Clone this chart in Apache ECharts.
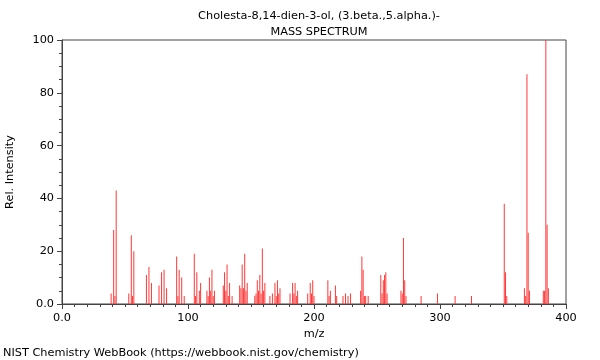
<!DOCTYPE html>
<html>
<head>
<meta charset="utf-8">
<script src="https://cdn.jsdelivr.net/npm/echarts@6/dist/echarts.min.js"></script>
<style>html,body{margin:0;padding:0;background:#fff}#c{width:600px;height:360px}</style>
</head>
<body>
<div id="c"></div>
<script>
const titleLine1 = "Cholesta-8,14-dien-3-ol, (3.beta.,5.alpha.)-";
const titleLine2 = "MASS SPECTRUM";
const footer = "NIST Chemistry WebBook (https://webbook.nist.gov/chemistry)";
const xName = "m/z";
const yName = "Rel. Intensity";
const mz = [39,41,42,43,53,55,56,57,67,69,71,77,79,81,83,91,92,93,95,97,105,106,107,109,110,115,116,117,118,119,120,121,128,129,130,131,132,133,135,141,142,143,144,145,146,147,153,154,155,156,157,158,159,160,161,165,167,169,170,171,172,173,181,183,184,185,186,187,195,197,198,199,200,211,212,213,217,218,223,225,227,229,237,238,239,240,241,243,253,254,255,256,257,258,269,270,271,272,273,285,298,312,325,351,352,353,367,368,369,370,371,382,383,384,385,386];
const intensity = [4,28,3,43,4,26,3,20,11,14,8,7,12,13,6,18,3,13,10,3,19,3,12,5,8,5,3,10,5,13,3,5,7,12,5,15,3,8,3,7,6,15,6,19,5,8,3,4,9,5,11,4,21,5,8,3,4,8,3,9,4,6,4,8,4,8,3,5,4,8,4,9,3,9,3,5,7,3,3,4,3,4,5,18,13,3,3,3,11,4,9,11,12,4,5,4,25,9,3,3,4,3,3,38,12,3,6,3,87,27,5,5,5,100,30,6];

const font = 'DejaVu Sans';
const fs = 11.3;
const axisColor = '#444';
const chart = echarts.init(document.getElementById('c'), null, {renderer: 'canvas'});
chart.setOption({
  animation: false,
  backgroundColor: '#fff',
  textStyle: {fontFamily: font},
  title: [
    {text: titleLine1, left: 314, top: 6, textAlign: 'center', textStyle: {fontFamily: font, fontSize: fs, fontWeight: 'normal', color: '#000'}},
    {text: titleLine2, left: 314, top: 22, textAlign: 'center', textStyle: {fontFamily: font, fontSize: fs, fontWeight: 'normal', color: '#000'}}
  ],
  grid: {left: 62, right: 34, top: 40, bottom: 56, containLabel: false, outerBoundsMode: 'none', show: true, borderColor: axisColor, borderWidth: 1, backgroundColor: 'transparent'},
  xAxis: {
    type: 'value', min: 0, max: 400, interval: 100,
    name: xName, nameLocation: 'middle', nameGap: 24,
    nameTextStyle: {fontFamily: font, fontSize: fs, color: '#000'},
    axisLine: {show: true, lineStyle: {color: axisColor}},
    axisTick: {show: true, length: 5, lineStyle: {color: axisColor}},
    minorTick: {show: true, splitNumber: 10, length: 3, lineStyle: {color: axisColor}},
    splitLine: {show: false},
    axisLabel: {fontFamily: font, fontSize: fs, color: '#000', margin: 9, formatter: v => v === 0 ? '0.0' : String(v)}
  },
  yAxis: {
    type: 'value', min: 0, max: 100, interval: 20,
    name: yName, nameLocation: 'middle', nameGap: 46,
    nameTextStyle: {fontFamily: font, fontSize: fs, color: '#000'},
    axisLine: {show: true, lineStyle: {color: axisColor}},
    axisTick: {show: true, length: 5, lineStyle: {color: axisColor}},
    minorTick: {show: true, splitNumber: 4, length: 3, lineStyle: {color: axisColor}},
    splitLine: {show: false},
    axisLabel: {fontFamily: font, fontSize: fs, color: '#000', margin: 8, formatter: v => v === 0 ? '0.0' : String(v)}
  },
  graphic: [
    {type: 'text', left: 3, top: 348, style: {text: footer, font: fs + 'px "DejaVu Sans"', fill: '#000'}}
  ],
  series: [{
    type: 'bar',
    barWidth: 1,
    itemStyle: {color: '#ff3838'},
    data: mz.map((m, i) => [m, intensity[i]])
  }]
});
</script>
</body>
</html>
